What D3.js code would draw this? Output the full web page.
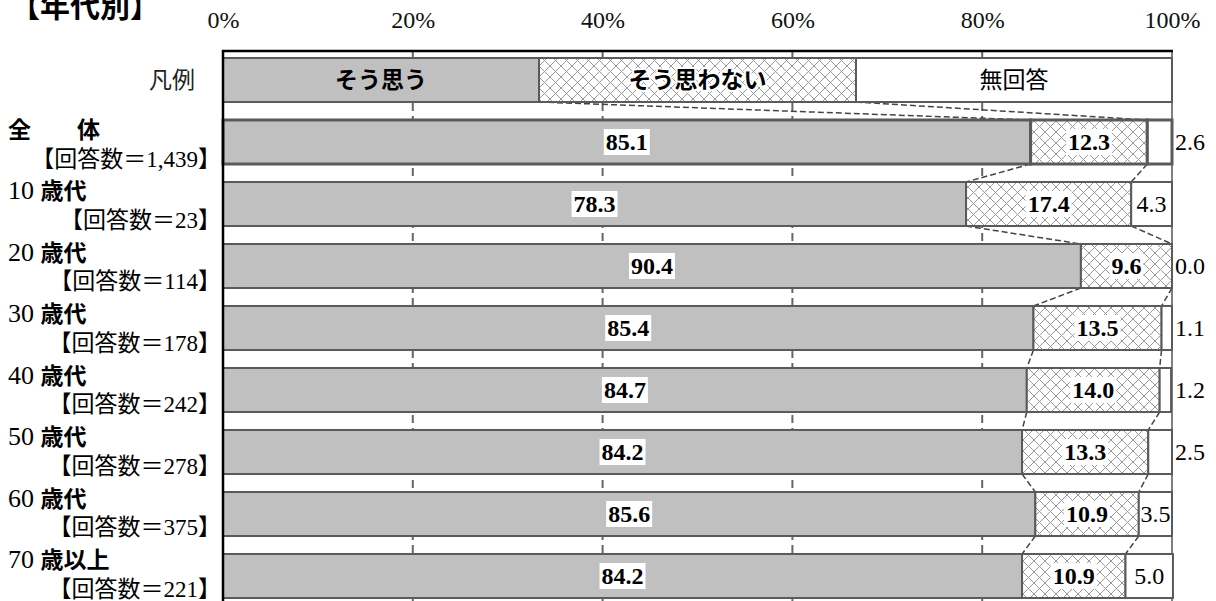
<!DOCTYPE html>
<html>
<head>
<meta charset="utf-8">
<script src="https://cdn.jsdelivr.net/npm/d3@7/dist/d3.min.js"></script>
<style>
  body { margin: 0; background: #fff; }
  svg { display: block; }
</style>
</head>
<body>
<svg width="1216" height="601"></svg>
<script>
// data
const groups = ["全　　体", "10 歳代", "20 歳代", "30 歳代", "40 歳代", "50 歳代", "60 歳代", "70 歳以上"];
const counts = ["1,439", "23", "114", "178", "242", "278", "375", "221"];
const agree = [85.1, 78.3, 90.4, 85.4, 84.7, 84.2, 85.6, 84.2];
const disagree = [12.3, 17.4, 9.6, 13.5, 14.0, 13.3, 10.9, 10.9];
const noAnswer = [2.6, 4.3, 0.0, 1.1, 1.2, 2.5, 3.5, 5.0];
const legendLabels = ["そう思う", "そう思わない", "無回答"];
const legendShares = [33.3, 33.4, 33.3];
const tickValues = [0, 20, 40, 60, 80, 100];

const SERIF = "'Liberation Serif', 'Noto Sans CJK JP', serif";
const GOTHIC = "'Noto Sans CJK JP', sans-serif";
const fills = ["#c0c0c0", "url(#hatch)", "#ffffff"];
const edge = "#5a5a5a";

let svg = d3.select("svg");

// crosshatch pattern for そう思わない
let pat = svg.append("defs").append("pattern")
  .attr("id", "hatch")
  .attr("patternUnits", "userSpaceOnUse")
  .attr("width", 11).attr("height", 11);
pat.append("rect").attr("width", 11).attr("height", 11).attr("fill", "#fff");
pat.append("path").attr("d", "M0,0L11,11M11,0L0,11")
  .attr("stroke", "#999").attr("stroke-width", 1);

let x = d3.scaleLinear().domain([0, 100]).range([223, 1172]);
let rows = ["legend"].concat(groups);
let y = d3.scaleBand().domain(rows).range([49, 607])
  .paddingInner(0.29).paddingOuter(0.145);
// the left labels sit on a slightly tighter spacing than the bars
let labelY = d3.scalePoint().domain(groups).range([130, 560]);

// each row as list of [start, end] segments
let rowData = rows.map(function(r, i) {
  let vals = i == 0 ? legendShares : [agree[i - 1], disagree[i - 1], noAnswer[i - 1]];
  let acc = 0;
  return vals.map(function(v, k) {
    let s = { row: r, idx: i, k: k, v: v, x0: acc, x1: acc + v };
    acc += v;
    return s;
  });
});

// title (cut at the top edge, as in the original)
svg.append("text")
  .attr("x", 10).attr("y", 17)
  .style("font-family", GOTHIC).style("font-weight", "bold").style("font-size", "30px")
  .text("【年代別】");

// percent axis on top
let axis = svg.append("g")
  .attr("transform", "translate(0,28)")
  .call(d3.axisTop(x).tickValues(tickValues).tickSize(0).tickPadding(0)
    .tickFormat(function(d) { return d + "%"; }));
axis.select(".domain").remove();
axis.selectAll("text")
  .style("font-family", SERIF).style("font-size", "24px").attr("fill", "#111");

// grid lines
svg.append("g").selectAll("line")
  .data(tickValues.slice(1, -1))
  .enter().append("line")
  .attr("x1", d => x(d)).attr("x2", d => x(d))
  .attr("y1", 51).attr("y2", 601)
  .attr("stroke", "#666").attr("stroke-width", 2)
  .attr("stroke-dasharray", "8,5");

// right frame
svg.append("line").attr("x1", x(100)).attr("x2", x(100)).attr("y1", 51).attr("y2", 601)
  .attr("stroke", "#555").attr("stroke-width", 1.5);

// dashed connectors between rows
let links = [];
for (let i = 0; i < rowData.length - 1; i++) {
  for (let k = 0; k < 2; k++) {
    links.push({
      xa: rowData[i][k].x1, ya: y(rows[i]) + y.bandwidth(),
      xb: rowData[i + 1][k].x1, yb: y(rows[i + 1])
    });
  }
}
svg.append("g").selectAll("line")
  .data(links)
  .enter().append("line")
  .attr("x1", d => x(d.xa)).attr("y1", d => d.ya)
  .attr("x2", d => x(d.xb)).attr("y2", d => d.yb)
  .attr("stroke", "#444").attr("stroke-width", 1.5)
  .attr("stroke-dasharray", "6,3");

// bars
let rowG = svg.append("g").selectAll("g")
  .data(rowData)
  .enter().append("g");
rowG.selectAll("rect")
  .data(d => d)
  .enter().append("rect")
  .attr("x", d => x(d.x0))
  .attr("y", d => y(d.row))
  .attr("width", d => x(d.x1) - x(d.x0))
  .attr("height", y.bandwidth())
  .attr("fill", d => fills[d.k])
  .attr("stroke", edge)
  .attr("stroke-width", d => d.idx == 1 ? 3 : 2);

// legend row texts
rowG.filter(d => d[0].idx == 0).selectAll("text")
  .data(d => d)
  .enter().append("text")
  .attr("x", d => x((d.x0 + d.x1) / 2))
  .attr("y", d => y(d.row) + y.bandwidth() / 2 + 8)
  .attr("text-anchor", "middle")
  .style("font-family", GOTHIC)
  .style("font-size", "23px")
  .style("font-weight", d => d.k < 2 ? "bold" : "normal")
  .style("paint-order", "stroke")
  .attr("stroke", d => d.k == 1 ? "#fff" : "none")
  .attr("stroke-width", 4)
  .text((d, k) => legendLabels[k]);

// value labels
let valG = rowG.filter(d => d[0].idx > 0);
valG.each(function(segs) {
  let g = d3.select(this);
  segs.forEach(function(d) {
    let cy = y(d.row) + y.bandwidth() / 2;
    let inside = d.k < 2 || d.v >= 3;
    let tx = inside ? x((d.x0 + d.x1) / 2) : x(100) + 3;
    let t = g.append("text")
      .attr("x", tx).attr("y", cy + 8)
      .attr("text-anchor", inside ? "middle" : "start")
      .style("font-family", SERIF)
      .style("font-size", "24px")
      .style("font-weight", d.k < 2 ? "bold" : "normal")
      .text(d.v.toFixed(1));
    if (d.k < 2) {
      let b = t.node().getBBox();
      g.insert("rect", function() { return t.node(); })
        .attr("x", b.x - 2).attr("y", cy - 13)
        .attr("width", b.width + 4).attr("height", 26)
        .attr("fill", "#fff");
    }
  });
});

// frame top and left (drawn over the bars)
svg.append("line").attr("x1", 222).attr("x2", x(100) + 1).attr("y1", 51).attr("y2", 51)
  .attr("stroke", "#000").attr("stroke-width", 2.5);
svg.append("line").attr("x1", 223).attr("x2", 223).attr("y1", 50).attr("y2", 601)
  .attr("stroke", "#000").attr("stroke-width", 2.5);

// row labels on the left
svg.append("text")
  .attr("x", 195).attr("y", y("legend") + y.bandwidth() / 2 + 8)
  .attr("text-anchor", "end")
  .style("font-family", GOTHIC).style("font-size", "23px").attr("fill", "#222")
  .text("凡例");

let lab = svg.append("g").selectAll("g")
  .data(groups)
  .enter().append("g");
let nameT = lab.append("text")
  .attr("x", 8)
  .attr("y", d => labelY(d) + 8);
nameT.each(function(d) {
  let m = d.match(/^(\d+)\s*(.*)$/);
  let t = d3.select(this);
  if (m) {
    t.append("tspan").style("font-family", SERIF).style("font-size", "26px").text(m[1] + " ");
    t.append("tspan").style("font-family", GOTHIC).style("font-weight", "bold").style("font-size", "23px").text(m[2]);
  } else {
    t.append("tspan").style("font-family", GOTHIC).style("font-weight", "bold").style("font-size", "23px").text(d);
  }
});
lab.append("text")
  .attr("x", 221)
  .attr("y", d => labelY(d) + 28.5 + 8)
  .attr("text-anchor", "end")
  .style("font-family", SERIF).style("font-size", "23px")
  .text((d, i) => "【回答数＝" + counts[i] + "】");
</script>
</body>
</html>
